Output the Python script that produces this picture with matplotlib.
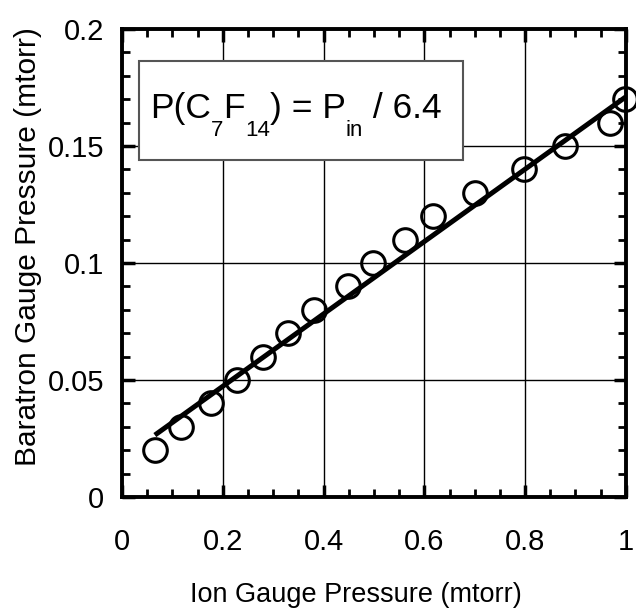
import matplotlib
matplotlib.use("Agg")
import matplotlib.pyplot as plt
from matplotlib.ticker import MultipleLocator, FixedLocator
from matplotlib.patches import Rectangle
from matplotlib.transforms import IdentityTransform

plt.rcParams['font.family'] = ['Liberation Sans', 'DejaVu Sans']

ion_pressure = [0.065, 0.117, 0.177, 0.228, 0.280, 0.329, 0.381, 0.448, 0.498,
                0.561, 0.617, 0.700, 0.798, 0.879, 0.968, 0.998]
baratron_pressure = [0.02, 0.03, 0.04, 0.05, 0.06, 0.07, 0.08, 0.09, 0.10,
                     0.11, 0.12, 0.13, 0.14, 0.15, 0.16, 0.17]
fit_x = [0.065, 1.0]
fit_y = [0.0265, 0.171]

xticks = [0, 0.2, 0.4, 0.6, 0.8, 1]
xtick_labels = ['0', '0.2', '0.4', '0.6', '0.8', '1']
yticks = [0, 0.05, 0.1, 0.15, 0.2]
ytick_labels = ['0', '0.05', '0.1', '0.15', '0.2']

# formula pieces: (text, is_subscript)
formula = [("P(C", False), ("7", True), ("F", False), ("14", True),
           (") = P", False), ("in", True), (" / 6.4", False)]

fig = plt.figure(figsize=(6.36, 6.16), dpi=100)
ax = fig.add_axes([0.192, 0.193, 0.792, 0.760])

ax.plot(fit_x, fit_y, color='black', lw=3.6, zorder=3, solid_capstyle='butt')
ax.plot(ion_pressure, baratron_pressure, linestyle='none', marker='o',
        markersize=17, markerfacecolor='none', markeredgecolor='black',
        markeredgewidth=2.2, zorder=4, clip_on=False)

ax.set_xlim(0, 1)
ax.set_ylim(0, 0.2)
ax.xaxis.set_major_locator(FixedLocator(xticks))
ax.set_xticklabels(xtick_labels)
ax.yaxis.set_major_locator(FixedLocator(yticks))
ax.set_yticklabels(ytick_labels)
ax.xaxis.set_minor_locator(MultipleLocator(0.05))
ax.yaxis.set_minor_locator(MultipleLocator(0.01))

ax.grid(True, which='major', color='black', lw=1.0)
ax.tick_params(which='both', direction='in', top=True, right=True, color='black')
ax.tick_params(which='major', length=9, width=2.5, labelsize=21)
ax.tick_params(axis='x', which='major', pad=22)
ax.tick_params(axis='y', which='major', pad=13)
ax.tick_params(which='minor', length=6, width=2)
for s in ax.spines.values():
    s.set_linewidth(2.8)

ax.set_xlabel('Ion Gauge Pressure (mtorr)', fontsize=19.5)
ax.set_ylabel('Baratron Gauge Pressure (mtorr)', fontsize=21.5)
ax.xaxis.set_label_coords(0.464, -0.182)
ax.yaxis.set_label_coords(-0.160, 0.536)

# annotation box
ax.add_patch(Rectangle((0.034, 0.720), 0.643, 0.212, transform=ax.transAxes,
                       facecolor='white', edgecolor='#555555', lw=1.5, zorder=5))

renderer = fig.canvas.get_renderer()
px, py = ax.transAxes.transform((0.056, 0.81))
for s, sub in formula:
    size = 16 if sub else 25.5
    yy = py - 18 if sub else py
    t = ax.text(px, yy, s, fontsize=size, transform=IdentityTransform(),
                ha='left', va='baseline', zorder=6)
    px += t.get_window_extent(renderer).width

fig.savefig('out.png', dpi=100)
